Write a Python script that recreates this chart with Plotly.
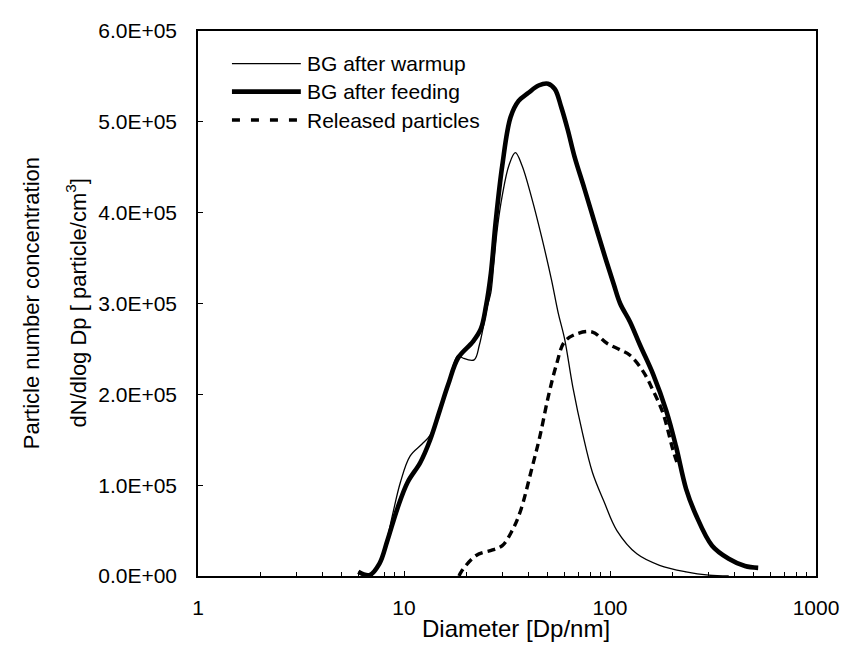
import plotly.graph_objects as go

# ---- data ----
warmup_d = [6.0, 6.8, 7.6, 8.3, 8.8, 9.6, 10.7, 12.2, 13.4, 14.9, 16.4, 18.3, 19.3, 21.9,
            23.2, 24.5, 25.4, 26.4, 27.3, 28.4, 30.0, 32.3, 34.7, 37.4, 41.7, 46.6, 52.0,
            56.0, 60.2, 66.0, 73.6, 82.2, 93.5, 108, 135, 174, 234, 302, 377]
warmup_n = [4.6e3, 1e3, 15e3, 42e3, 67.5e3, 103e3, 132e3, 145e3, 155e3, 182e3, 213e3, 243e3,
            240e3, 238e3, 254e3, 279e3, 297e3, 312e3, 344e3, 383e3, 419e3, 452e3, 466e3,
            452e3, 416e3, 373e3, 326e3, 290e3, 261e3, 208e3, 157e3, 114e3, 82e3, 50e3,
            24.4e3, 11.8e3, 4.6e3, 1e3, 0]

feeding_d = [6.0, 6.8, 7.6, 8.3, 9.3, 10.4, 12.0, 13.4, 14.9, 16.4, 18.3, 21.6, 23.6, 25.0,
             26.4, 27.9, 30.0, 32.9, 36.0, 40.2, 45.0, 50.0, 54.0, 58.0, 62.4, 67.2, 75.0,
             83.7, 93.5, 104, 112, 125, 140, 162, 187.5, 209, 234, 261, 313, 377, 452, 524]
feeding_n = [4.6e3, 1e3, 13.7e3, 38.8e3, 74.7e3, 103e3, 125e3, 150e3, 182e3, 211e3, 240e3,
             258e3, 272e3, 297e3, 333e3, 391e3, 452e3, 505e3, 523e3, 532e3, 540e3, 542e3,
             536e3, 516e3, 491e3, 462e3, 427e3, 391e3, 355e3, 322e3, 300e3, 280e3, 254e3,
             222e3, 182e3, 143e3, 96e3, 67.5e3, 33.4e3, 19e3, 11e3, 9e3]

released_d = [18.5, 19.0, 22.4, 26.9, 30.0, 33.5, 36.7, 41.7, 45.7, 50.1, 55.0, 60.2, 69.7,
              82.2, 97.0, 112, 125, 145, 162, 181, 202, 215]
released_n = [0, 5e3, 22.6e3, 28.7e3, 33.4e3, 50e3, 71e3, 118e3, 154e3, 197e3, 233e3, 258e3,
              267e3, 268.6e3, 256e3, 249e3, 243e3, 225e3, 204e3, 179e3, 139e3, 120e3]

series_names = ["BG after warmup", "BG after feeding", "Released particles"]

x_tickvals = [1, 10, 100, 1000]
x_ticktext = ["1", "10", "100", "1000"]
x_minor = [2, 3, 4, 5, 6, 7, 8, 9, 20, 30, 40, 50, 60, 70, 80, 90, 200, 300, 400, 500, 600, 700, 800, 900]
y_tickvals = [0, 1e5, 2e5, 3e5, 4e5, 5e5, 6e5]
y_ticktext = ["0.0E+00", "1.0E+05", "2.0E+05", "3.0E+05", "4.0E+05", "5.0E+05", "6.0E+05"]

x_title = "Diameter [Dp/nm]"
y_title_1 = "Particle number concentration"
y_title_2 = "dN/dlog Dp [ particle/cm<sup>3</sup>]"

# ---- layout geometry (page body adds an 8px offset) ----
OFF = 8
W, H = 842, 646
L, R, T, B = 189.5, 24.5, 11, 78
PW, PH = W - L - R, H - T - B


def scr2paper(sx, sy):
    fx, fy = sx - OFF, sy - OFF
    return (fx - L) / PW, (H - B - fy) / PH


FONT = "Liberation Sans, Arial, sans-serif"

styles = [dict(width=1.3, dash="solid", leg="solid"),
          dict(width=4.6, dash="solid", leg="solid"),
          dict(width=3.4, dash="8px,5px", leg="8px,11px")]

fig = go.Figure()
for d, n, s in zip([warmup_d, feeding_d, released_d],
                   [warmup_n, feeding_n, released_n], styles):
    fig.add_trace(go.Scatter(x=d, y=n, mode="lines", showlegend=False,
                             line=dict(color="black", width=s["width"], dash=s["dash"],
                                       shape="spline", smoothing=1.0)))

# manual legend (long line samples, as in the reference)
leg_rows = [52.3, 81, 110]
for name, s, sy in zip(series_names, styles, leg_rows):
    x0, y0 = scr2paper(232, sy)
    x1, _ = scr2paper(302, sy)
    fig.add_shape(type="line", xref="paper", yref="paper", x0=x0, x1=x1, y0=y0, y1=y0,
                  line=dict(color="black", width=s["width"], dash=s["leg"]))
    tx, ty = scr2paper(306, sy)
    fig.add_annotation(xref="paper", yref="paper", x=tx, y=ty, text=name, showarrow=False,
                       xanchor="left", yanchor="middle",
                       font=dict(family=FONT, size=21, color="black"))

# axis titles
ax, ay = scr2paper(521, 630)
fig.add_annotation(xref="paper", yref="paper", x=ax, y=ay, text=x_title, showarrow=False,
                   xanchor="center", yanchor="middle", font=dict(family=FONT, size=24, color="black"))
for txt, sx in [(y_title_1, 28), (y_title_2, 74)]:
    px_, py_ = scr2paper(sx, 297)
    fig.add_annotation(xref="paper", yref="paper", x=px_, y=py_, text=txt, showarrow=False,
                       textangle=-90, xanchor="center", yanchor="middle",
                       font=dict(family=FONT, size=22, color="black"))

fig.update_layout(
    width=W, height=H, autosize=False,
    margin=dict(l=L, r=R, t=T, b=B),
    paper_bgcolor="white", plot_bgcolor="white",
    font=dict(family=FONT, size=21, color="black"),
)
fig.update_xaxes(type="log", range=[0, 3], tickvals=x_tickvals, ticktext=x_ticktext,
                 ticks="inside", ticklen=5, tickcolor="black", tickwidth=1,
                 minor=dict(tickvals=x_minor, ticks="inside", ticklen=4, tickcolor="black"),
                 showline=True, linecolor="black", linewidth=1.5, mirror=True,
                 showgrid=False, zeroline=False, ticklabelstandoff=12,
                 tickfont=dict(family=FONT, size=21))
fig.update_yaxes(range=[0, 6e5], tickvals=y_tickvals, ticktext=y_ticktext,
                 ticks="inside", ticklen=5, tickcolor="black", tickwidth=1,
                 showline=True, linecolor="black", linewidth=1.5, mirror=True,
                 showgrid=False, zeroline=False, ticklabelstandoff=15,
                 tickfont=dict(family=FONT, size=21))

fig.write_html("out.html")
